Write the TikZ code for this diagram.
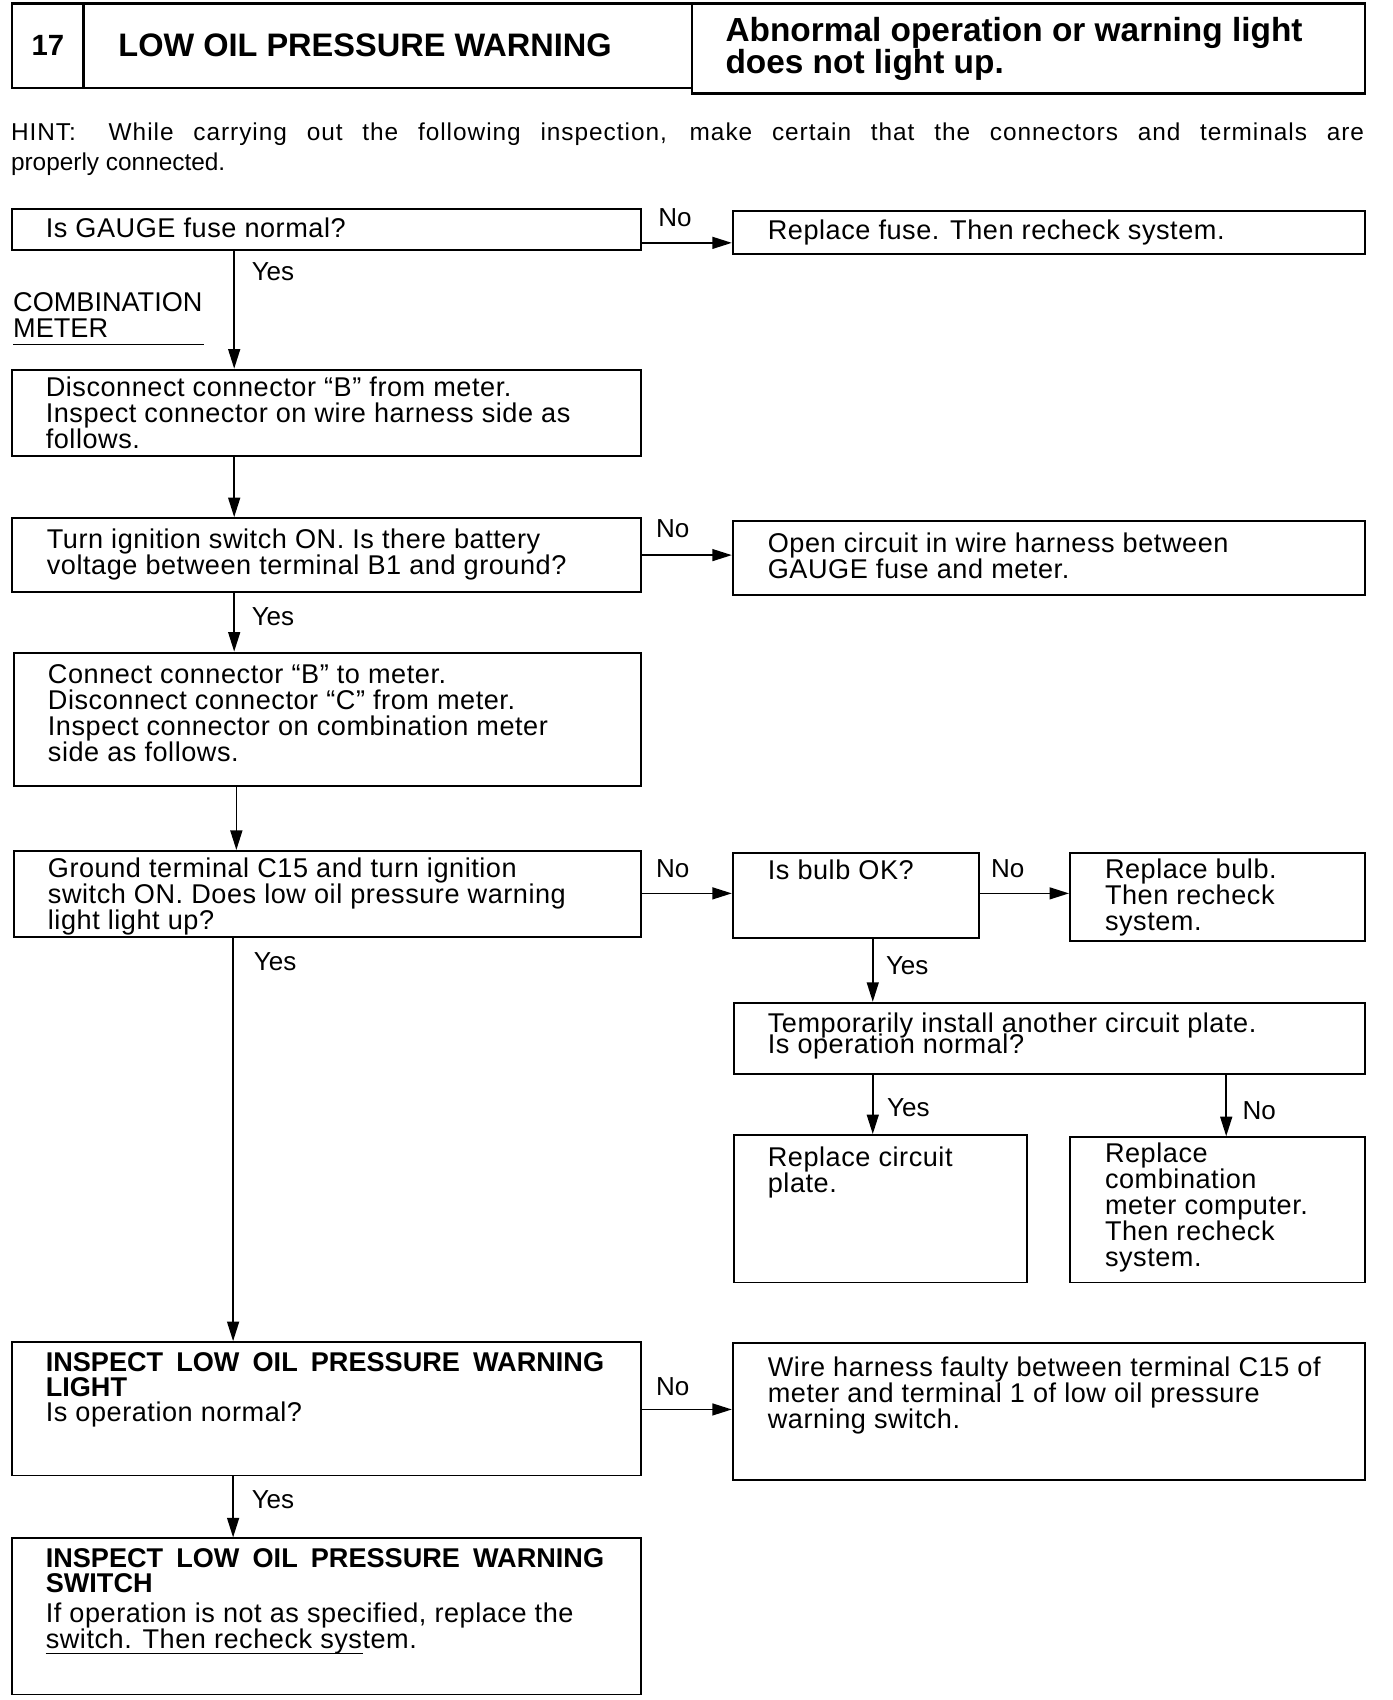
\documentclass[tikz,border=0pt]{standalone}
\usepackage{fontspec}
\setmainfont{Liberation Sans}
\newfontfamily\bodyfont{Liberation Sans}[LetterSpace=2]
\newfontfamily\hintfont{Liberation Sans}[LetterSpace=4]
\usetikzlibrary{arrows.meta}
\begin{document}
\begin{tikzpicture}[x=1pt,y=-1pt,
  box/.style={draw,line width=1.8pt,inner sep=0pt,anchor=north west},
  tbox/.style={draw,line width=2.2pt,inner sep=0pt,anchor=north west},
  txt/.style={inner sep=0pt,anchor=north west,align=left,font=\bodyfont\fontsize{25}{24}\selectfont},
  lbl/.style={inner sep=0pt,anchor=west,font=\fontsize{24}{24}\selectfont},
  arr/.style={line width=1.5pt,-{Triangle[length=18pt,width=11pt]}}]
\useasboundingbox (0,0) rectangle (1284,1568);
% title
\node[tbox,minimum width=66pt,minimum height=78pt] (t17) at (10,2) {};
\node[tbox,minimum width=561pt,minimum height=78pt] (tmain) at (76,2) {};
\node[tbox,minimum width=621pt,minimum height=83pt] (tright) at (637,2) {};
\node[inner sep=0pt,font=\bfseries\fontsize{27}{27}\selectfont] (n17) at (t17.center) {17};
\node[inner sep=0pt,anchor=west,font=\bfseries\fontsize{30}{30}\selectfont] (ttl) at ([xshift=33pt]tmain.west) {LOW OIL PRESSURE WARNING};
\node[inner sep=0pt,anchor=north west,align=left,font=\bfseries\fontsize{30.8}{29.5}\selectfont] (ttr) at ([shift={(32,14)}]tright.north west) {Abnormal operation or warning light\\does not light up.};
% hint
\node[inner sep=0pt,anchor=north west,align=left,font=\fontsize{22.5}{28}\selectfont] (hint) at (10,113) {\makebox[1248pt][s]{\hintfont HINT:\hspace{12pt} While carrying out the following inspection, make certain that the connectors and terminals are}\\properly connected.};
% boxes
\node[box,minimum width=580pt,minimum height=38pt] (b1) at (10,192) {};
\node[box,minimum width=583pt,minimum height=39pt] (r1) at (675,194) {};
\node[box,minimum width=580pt,minimum height=80pt] (b2) at (10,340) {};
\node[box,minimum width=580pt,minimum height=68pt] (b3) at (10,477) {};
\node[box,minimum width=583pt,minimum height=68pt] (r2) at (675,480) {};
\node[box,minimum width=578pt,minimum height=123pt] (b4) at (12,601) {};
\node[box,minimum width=578pt,minimum height=79pt] (b5) at (12,784) {};
\node[box,minimum width=227pt,minimum height=78pt] (r3) at (675,786) {};
\node[box,minimum width=272pt,minimum height=81pt] (r4) at (986,786) {};
\node[box,minimum width=582pt,minimum height=66pt] (r5) at (676,924) {};
\node[box,minimum width=270pt,minimum height=136pt] (r6) at (676,1046) {};
\node[box,minimum width=272pt,minimum height=134pt] (r7) at (986,1048) {};
\node[box,minimum width=580pt,minimum height=123pt] (b6) at (10,1237) {};
\node[box,minimum width=583pt,minimum height=126pt] (r8) at (675,1238) {};
\node[box,minimum width=580pt,minimum height=144pt] (b7) at (10,1418) {};
% texts
\node[txt] (b1t) at ([shift={(32,9)}]b1.north west) {Is GAUGE fuse normal?};
\node[txt] (r1t) at ([shift={(33,9)}]r1.north west) {Replace fuse. Then recheck system.};
\node[inner sep=0pt,anchor=north west,align=left,font=\fontsize{25}{24}\selectfont] (cm) at (12,270) {COMBINATION\\METER};
\node[txt] (b2t) at ([shift={(32,7)}]b2.north west) {Disconnect connector “B” from meter.\\Inspect connector on wire harness side as\\follows.};
\node[txt] (b3t) at ([shift={(33,11)}]b3.north west) {Turn ignition switch ON. Is there battery\\voltage between terminal B1 and ground?};
\node[txt] (r2t) at ([shift={(33,11)}]r2.north west) {Open circuit in wire harness between\\GAUGE fuse and meter.};
\node[txt] (b4t) at ([shift={(32,12)}]b4.north west) {Connect connector “B” to meter.\\Disconnect connector “C” from meter.\\Inspect connector on combination meter\\side as follows.};
\node[txt] (b5t) at ([shift={(32,7)}]b5.north west) {Ground terminal C15 and turn ignition\\switch ON. Does low oil pressure warning\\light light up?};
\node[txt] (r3t) at ([shift={(33,7)}]r3.north west) {Is bulb OK?};
\node[txt] (r4t) at ([shift={(33,6)}]r4.north west) {Replace bulb.\\Then recheck\\system.};
\node[txt] (r5t) at ([shift={(32,10)}]r5.north west) {Temporarily install another circuit plate.\\[-5pt]Is operation normal?};
\node[txt] (r6t) at ([shift={(32,12)}]r6.north west) {Replace circuit\\plate.};
\node[txt] (r7t) at ([shift={(33,6)}]r7.north west) {Replace\\combination\\meter computer.\\Then recheck\\system.};
\node[txt] (b6t) at ([shift={(32,10)}]b6.north west) {\makebox[515pt][s]{\normalfont\bfseries INSPECT LOW OIL PRESSURE WARNING}\\[-1pt]{\normalfont\bfseries LIGHT}\\[-1pt]Is operation normal?};
\node[txt] (r8t) at ([shift={(33,13)}]r8.north west) {Wire harness faulty between terminal C15 of\\meter and terminal 1 of low oil pressure\\warning switch.};
\node[txt] (b7t) at ([shift={(32,10)}]b7.north west) {\makebox[515pt][s]{\normalfont\bfseries INSPECT LOW OIL PRESSURE WARNING}\\[-1pt]{\normalfont\bfseries SWITCH}\\[4pt]If operation is not as specified, replace the\\switch. Then recheck system.};
% underlines
\draw[line width=1.2pt] (cm.south west |- 0,318) -- (188,318);
\draw[line width=1.2pt] (b7t.south west |- 0,1525) -- (335,1525);
% coordinates for connectors
\coordinate (xa) at (216,0);
\coordinate (xb) at (218,0);
\coordinate (xc) at (215,0);
\coordinate (xr) at (805,0);
\coordinate (xs) at (1131,0);
\coordinate (ya) at (0,224);
\coordinate (yb) at (0,512);
\coordinate (yc) at (0,824);
\coordinate (yd) at (0,1300);
% connectors
\draw[arr] (b1.south -| xa) -- (b2.north -| xa);
\draw[arr] (b1.east |- ya) -- (r1.west |- ya);
\draw[arr] (b2.south -| xa) -- (b3.north -| xa);
\draw[arr] (b3.east |- yb) -- (r2.west |- yb);
\draw[arr] (b3.south -| xa) -- (b4.north -| xa);
\draw[arr] (b4.south -| xb) -- (b5.north -| xb);
\draw[arr] (b5.east |- yc) -- (r3.west |- yc);
\draw[arr] (r3.east |- yc) -- (r4.west |- yc);
\draw[arr] (r3.south -| xr) -- (r5.north -| xr);
\draw[arr] (r5.south -| xr) -- (r6.north -| xr);
\draw[arr] (r5.south -| xs) -- (r7.north -| xs);
\draw[arr] (b5.south -| xc) -- (b6.north -| xc);
\draw[arr] (b6.east |- yd) -- (r8.west |- yd);
\draw[arr] (b6.south -| xc) -- (b7.north -| xc);
% labels
\node[lbl] (no1) at (607,201) {No};
\node[lbl] (yes1) at (232,251) {Yes};
\node[lbl] (no2) at (605,488) {No};
\node[lbl] (yes2) at (232,569) {Yes};
\node[lbl] (no3) at (605,801) {No};
\node[lbl] (no4) at (914,801) {No};
\node[lbl] (yes3) at (234,887) {Yes};
\node[lbl] (yes4) at (817,891) {Yes};
\node[lbl] (yes5) at (818,1022) {Yes};
\node[lbl] (no5) at (1146,1024) {No};
\node[lbl] (no6) at (605,1279) {No};
\node[lbl] (yes6) at (232,1383) {Yes};
\end{tikzpicture}
\end{document}
